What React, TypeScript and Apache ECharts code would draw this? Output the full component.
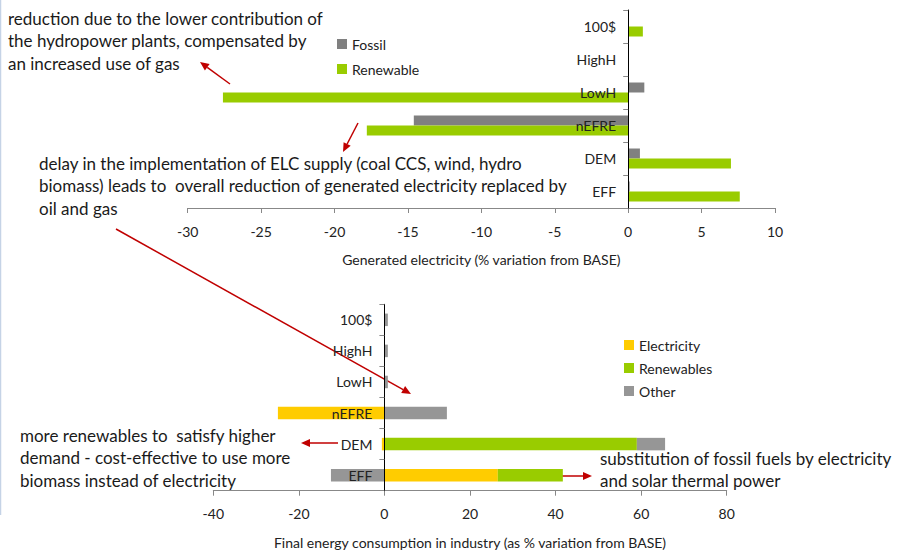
import React, { useEffect, useRef } from "react";
import * as echarts from "echarts";

const topCategories = ["EFF", "DEM", "nEFRE", "LowH", "HighH", "100$"];
const fossilValues = [0.1, 0.8, -14.6, 1.1, 0, 0];
const renewableValues = [7.6, 7.0, -17.8, -27.6, 0, 1.0];
const topTicks = { min: -30, max: 10, interval: 5 };

const bottomCategories = ["EFF", "DEM", "nEFRE", "LowH", "HighH", "100$"];
const electricityValues = [26.5, -0.6, -24.9, 0, 0, 0];
const renewablesValues = [15.2, 59.0, 0, 0, 0, 0];
const otherValues = [-12.5, 6.6, 14.6, 0.8, 0.8, 0.8];
const bottomTicks = { min: -40, max: 80, interval: 20 };

const FONT = "Lato, 'Open Sans', sans-serif";
const RED = "#C00000";
const GREEN = "#99CC00";
const GRAY_TOP = "#808080";
const GRAY_BOT = "#969696";
const YELLOW = "#FFCC00";

function arrow(x1: number, y1: number, x2: number, y2: number) {
  const dx = x2 - x1, dy = y2 - y1;
  const len = Math.sqrt(dx * dx + dy * dy);
  const ux = dx / len, uy = dy / len;
  const hl = 9, hw = 4;
  const bx = x2 - ux * hl, by = y2 - uy * hl;
  return {
    type: "group",
    children: [
      { type: "line", shape: { x1, y1, x2: bx, y2: by }, style: { stroke: RED, lineWidth: 1.5 } },
      {
        type: "polygon",
        shape: { points: [[x2, y2], [bx - uy * hw, by + ux * hw], [bx + uy * hw, by - ux * hw]] },
        style: { fill: RED },
      },
    ],
  };
}

function note(text: string, x: number, y: number) {
  return {
    type: "text",
    style: { text, x, y, font: `17px ${FONT}`, fill: "#1a1a1a", lineHeight: 22.5, textVerticalAlign: "top" },
  };
}

export default function App() {
  const ref = useRef<HTMLDivElement>(null);
  useEffect(() => {
    const chart = echarts.init(ref.current!, null, { renderer: "svg" });
    const axisLabel = { color: "#222", fontSize: 14, fontFamily: FONT };
    const nameStyle = { fontSize: 14, color: "#222", fontFamily: FONT };
    const legendText = { fontSize: 14, color: "#222", fontFamily: FONT };
    chart.setOption({
      animation: false,
      backgroundColor: "#fff",
      textStyle: { fontFamily: FONT },
      grid: [
        { left: 187.7, width: 587.3, top: 10, height: 198 },
        { left: 213.3, width: 513.4, top: 304.3, height: 186.4 },
      ],
      legend: [
        {
          data: ["Fossil", "Renewable"], orient: "vertical", left: 332, top: 32,
          itemWidth: 10, itemHeight: 10, itemGap: 11, icon: "rect", textStyle: legendText,
        },
        {
          data: ["Electricity", "Renewables", "Other"], orient: "vertical", left: 619, top: 333,
          itemWidth: 10, itemHeight: 10, itemGap: 9, icon: "rect", textStyle: legendText,
        },
      ],
      xAxis: [
        {
          type: "value", gridIndex: 0, ...topTicks, splitLine: { show: false },
          axisLine: { show: true, lineStyle: { color: "#888" } },
          axisTick: { show: true, length: 5, lineStyle: { color: "#888" } },
          axisLabel: { ...axisLabel, margin: 16 },
          name: "Generated electricity (% variation from BASE)", nameLocation: "middle", nameGap: 44,
          nameTextStyle: nameStyle,
        },
        {
          type: "value", gridIndex: 1, ...bottomTicks, splitLine: { show: false },
          axisLine: { show: true, lineStyle: { color: "#888" } },
          axisTick: { show: true, length: 5, lineStyle: { color: "#888" } },
          axisLabel: { ...axisLabel, margin: 16 },
          name: "Final energy consumption in industry (as % variation from BASE)", nameLocation: "middle", nameGap: 45,
          nameTextStyle: nameStyle,
        },
      ],
      yAxis: [
        {
          type: "category", gridIndex: 0, data: topCategories, z: 5, offset: -440.5,
          axisLine: { show: true, onZero: false, lineStyle: { color: "#000" } },
          axisTick: { show: true, length: 5, lineStyle: { color: "#888" } },
          axisLabel: { ...axisLabel, margin: 12 },
        },
        {
          type: "category", gridIndex: 1, data: bottomCategories, z: 5, offset: -171.1,
          axisLine: { show: true, onZero: false, lineStyle: { color: "#000" } },
          axisTick: { show: true, length: 5, lineStyle: { color: "#888" } },
          axisLabel: { ...axisLabel, margin: 12 },
        },
      ],
      series: [
        { name: "Fossil", type: "bar", xAxisIndex: 0, yAxisIndex: 0, data: fossilValues, barWidth: 10, barGap: "0%", itemStyle: { color: GRAY_TOP } },
        { name: "Renewable", type: "bar", xAxisIndex: 0, yAxisIndex: 0, data: renewableValues, barWidth: 10, barGap: "0%", itemStyle: { color: GREEN } },
        { name: "Electricity", type: "bar", xAxisIndex: 1, yAxisIndex: 1, stack: "s", data: electricityValues, barWidth: 12.5, itemStyle: { color: YELLOW } },
        { name: "Renewables", type: "bar", xAxisIndex: 1, yAxisIndex: 1, stack: "s", data: renewablesValues, barWidth: 12.5, itemStyle: { color: GREEN } },
        { name: "Other", type: "bar", xAxisIndex: 1, yAxisIndex: 1, stack: "s", data: otherValues, barWidth: 12.5, itemStyle: { color: GRAY_BOT } },
      ],
      graphic: [
        { type: "line", shape: { x1: 0.5, y1: 0, x2: 0.5, y2: 515 }, style: { stroke: "#C5D3E6", lineWidth: 1.5 } },
        note("reduction due to the lower contribution of\nthe hydropower plants, compensated by\nan increased use of gas", 8, 7),
        note("delay in the implementation of ELC supply (coal CCS, wind, hydro\nbiomass) leads to  overall reduction of generated electricity replaced by\noil and gas", 39, 152),
        note("more renewables to  satisfy higher\ndemand - cost-effective to use more\nbiomass instead of electricity", 20, 424),
        note("substitution of fossil fuels by electricity\nand solar thermal power", 600, 447),
        arrow(230, 84, 200, 62),
        arrow(358, 123, 343, 152),
        arrow(116, 229, 411, 394),
        arrow(338, 443, 301, 443),
        arrow(547, 476, 592, 476),
      ],
    });
    return () => chart.dispose();
  }, []);
  return <div ref={ref} style={{ position: "fixed", left: 0, top: 0, width: 897, height: 551 }} />;
}
